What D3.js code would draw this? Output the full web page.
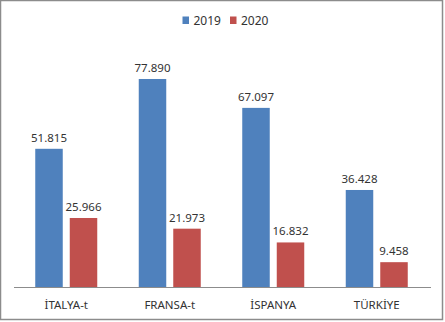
<!DOCTYPE html>
<html><head><meta charset="utf-8">
<script src="https://cdn.jsdelivr.net/npm/d3@7"></script>
<style>
html,body{margin:0;padding:0;background:#fff;}
svg{display:block;}
</style></head>
<body>
<script>
const categories = ["İTALYA-t", "FRANSA-t", "İSPANYA", "TÜRKİYE"];
const seriesNames = ["2019", "2020"];
const values2019 = [51815, 77890, 67097, 36428];
const values2020 = [25966, 21973, 16832, 9458];
const colors = ["#4F81BD", "#C0504D"];

const W = 445, H = 322;
const svg = d3.select("body").append("svg").attr("width", W).attr("height", H);
const font = "'Noto Sans', 'DejaVu Sans', sans-serif";

// border
svg.append("rect").attr("x", 0.5).attr("y", 0.5).attr("width", 442).attr("height", 319)
  .attr("fill", "#fff").attr("stroke", "#8c8c8c").attr("stroke-width", 1.5);

const baseY = 287.5;
const y = d3.scaleLinear().domain([0, 90000]).range([baseY, baseY - 90000 * 0.002677]);
const x0 = d3.scaleBand().domain(categories).range([14.5, 428.5]).padding(0);
const x1 = d3.scaleBand().domain(seriesNames).range([20.75, 82.75]).paddingInner(0.203);

const data = categories.map((c, i) => ({cat: c, vals: [values2019[i], values2020[i]]}));

const fmt = v => d3.format(",")(v).replace(/,/g, ".");

const g = svg.append("g");
const groups = g.selectAll("g.grp").data(data).join("g")
  .attr("transform", d => `translate(${x0(d.cat)},0)`);

groups.selectAll("rect").data(d => d.vals.map((v, k) => ({s: seriesNames[k], v, k})))
  .join("rect")
  .attr("x", d => x1(d.s)).attr("width", x1.bandwidth())
  .attr("y", d => y(d.v)).attr("height", d => baseY - y(d.v))
  .attr("fill", d => colors[d.k]);

groups.selectAll("text.val").data(d => d.vals.map((v, k) => ({s: seriesNames[k], v, k})))
  .join("text").attr("class", "val")
  .attr("x", d => x1(d.s) + x1.bandwidth() / 2)
  .attr("y", d => y(d.v) - 7)
  .attr("text-anchor", "middle")
  .attr("font-family", font).attr("font-size", 11.5).attr("fill", "#333")
  .text(d => fmt(d.v));

// axis line
svg.append("line").attr("x1", 14).attr("x2", 431).attr("y1", baseY).attr("y2", baseY)
  .attr("stroke", "#8c8c8c").attr("stroke-width", 1);

// category labels
const xAxis = d3.axisBottom(x0).tickSize(0).tickPadding(13);
const ax = svg.append("g").attr("transform", `translate(0,${baseY})`).call(xAxis);
ax.select(".domain").remove();
ax.selectAll("text").attr("font-family", font).attr("font-size", 11.5).attr("fill", "#333");

// legend
const legend = svg.append("g");
const legX = [182.5, 230];
seriesNames.forEach((s, k) => {
  legend.append("rect").attr("x", legX[k]).attr("y", 16.5).attr("width", 6.5).attr("height", 7.5)
    .attr("fill", colors[k]);
  legend.append("text").attr("x", legX[k] + 11).attr("y", 24.5)
    .attr("font-family", font).attr("font-size", 12).attr("fill", "#333").text(s);
});
</script>
</body></html>
